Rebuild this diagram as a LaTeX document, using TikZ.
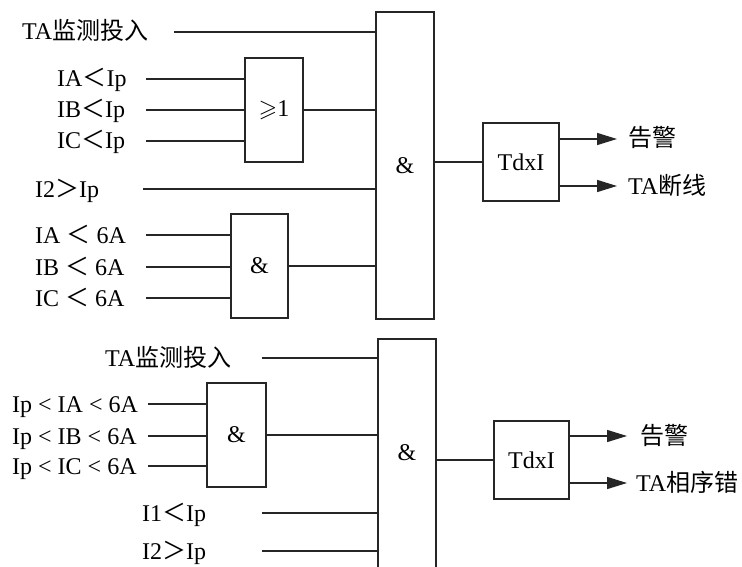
\documentclass[tikz,border=0pt]{standalone}
\usepackage{amssymb}
\usepackage{fontspec}
\setmainfont{Liberation Serif}
\newfontfamily\cjk{Noto Sans CJK SC}
\usetikzlibrary{arrows.meta}
\begin{document}
\begin{tikzpicture}[x=1pt,y=-1pt,
  wire/.style={line width=1.5pt,draw=black!85},
  gate/.style={draw=black!85,line width=1.5pt,inner sep=0pt,outer sep=0pt,anchor=north west,font=\fontsize{24}{28}\selectfont},
  lbl/.style={anchor=base west,inner sep=0pt,font=\fontsize{24}{28}\selectfont},
  arr/.style={wire,-{Triangle[length=20pt,width=12pt]}}]
\useasboundingbox (0,0) rectangle (742,567);
% ---------- top diagram ----------
\node[gate,minimum width=58pt,minimum height=307pt] (A1) at (376,12) {\&};
\node[gate,minimum width=58pt,minimum height=104pt] (OR) at (245,58) {$\geqslant$1};
\node[gate,minimum width=57pt,minimum height=104pt] (N1) at (231,214) {\&};
\node[gate,minimum width=76pt,minimum height=78pt] (T1) at (483,123) {TdxI};
\coordinate (a0) at (174,32);
\coordinate (a1) at (146,79);
\coordinate (a2) at (146,110);
\coordinate (a3) at (146,141);
\coordinate (a4) at (143,189);
\coordinate (a5) at (146,235);
\coordinate (a6) at (146,267);
\coordinate (a7) at (146,298);
\coordinate (o1) at (617,139);
\coordinate (o2) at (617,186);
\draw[wire] (a0) -- (a0 -| A1.west);
\draw[wire] (a1) -- (a1 -| OR.west);
\draw[wire] (a2) -- (a2 -| OR.west);
\draw[wire] (a3) -- (a3 -| OR.west);
\draw[wire] (OR.east) -- (OR.east -| A1.west);
\draw[wire] (a4) -- (a4 -| A1.west);
\draw[wire] (a5) -- (a5 -| N1.west);
\draw[wire] (a6) -- (a6 -| N1.west);
\draw[wire] (a7) -- (a7 -| N1.west);
\draw[wire] (N1.east) -- (N1.east -| A1.west);
\draw[wire] (T1.west -| A1.east) -- (T1.west);
\draw[arr] (o1 -| T1.east) -- (o1);
\draw[arr] (o2 -| T1.east) -- (o2);
\node[lbl] (t0) at (22,40) {TA{\cjk 监测投入}};
\node[lbl] (t1) at (57,87) {IA{\cjk ＜}Ip};
\node[lbl] (t2) at (57,118) {IB{\cjk ＜}Ip};
\node[lbl] (t3) at (57,149) {IC{\cjk ＜}Ip};
\node[lbl] (t4) at (35,197) {I2{\cjk ＞}Ip};
\node[lbl] (t5) at (35,243) {IA {\cjk ＜} 6A};
\node[lbl] (t6) at (35,275) {IB {\cjk ＜} 6A};
\node[lbl] (t7) at (35,306) {IC {\cjk ＜} 6A};
\node[lbl] (r1) at (628,147) {\cjk 告警};
\node[lbl] (r2) at (628,194) {TA{\cjk 断线}};
% ---------- bottom diagram ----------
\node[gate,draw=none,minimum width=58pt,minimum height=228pt] (A2) at (378,339) {\&};
\draw[wire] ([yshift=-12pt]A2.south west) |- (A2.north east) -- ([yshift=-12pt]A2.south east);
\node[gate,minimum width=59pt,minimum height=104pt] (N2) at (207,383) {\&};
\node[gate,minimum width=75pt,minimum height=78pt] (T2) at (494,421) {TdxI};
\coordinate (b0) at (262,358);
\coordinate (b1) at (148,404);
\coordinate (b2) at (148,436);
\coordinate (b3) at (148,466);
\coordinate (b4) at (262,513);
\coordinate (b5) at (262,551);
\coordinate (p1) at (627,436);
\coordinate (p2) at (627,483);
\draw[wire] (b0) -- (b0 -| A2.west);
\draw[wire] (b1) -- (b1 -| N2.west);
\draw[wire] (b2) -- (b2 -| N2.west);
\draw[wire] (b3) -- (b3 -| N2.west);
\draw[wire] (N2.east) -- (N2.east -| A2.west);
\draw[wire] (b4) -- (b4 -| A2.west);
\draw[wire] (b5) -- (b5 -| A2.west);
\draw[wire] (T2.west -| A2.east) -- (T2.west);
\draw[arr] (p1 -| T2.east) -- (p1);
\draw[arr] (p2 -| T2.east) -- (p2);
\node[lbl] (s0) at (105,366) {TA{\cjk 监测投入}};
\node[lbl] (s1) at (12,412) {Ip < IA < 6A};
\node[lbl] (s2) at (12,444) {Ip < IB < 6A};
\node[lbl] (s3) at (12,474) {Ip < IC < 6A};
\node[lbl] (s4) at (142,521) {I1{\cjk ＜}Ip};
\node[lbl] (s5) at (142,559) {I2{\cjk ＞}Ip};
\node[lbl] (u1) at (640,444) {\cjk 告警};
\node[lbl] (u2) at (636,491) {TA{\cjk 相序错}};
\end{tikzpicture}
\end{document}
